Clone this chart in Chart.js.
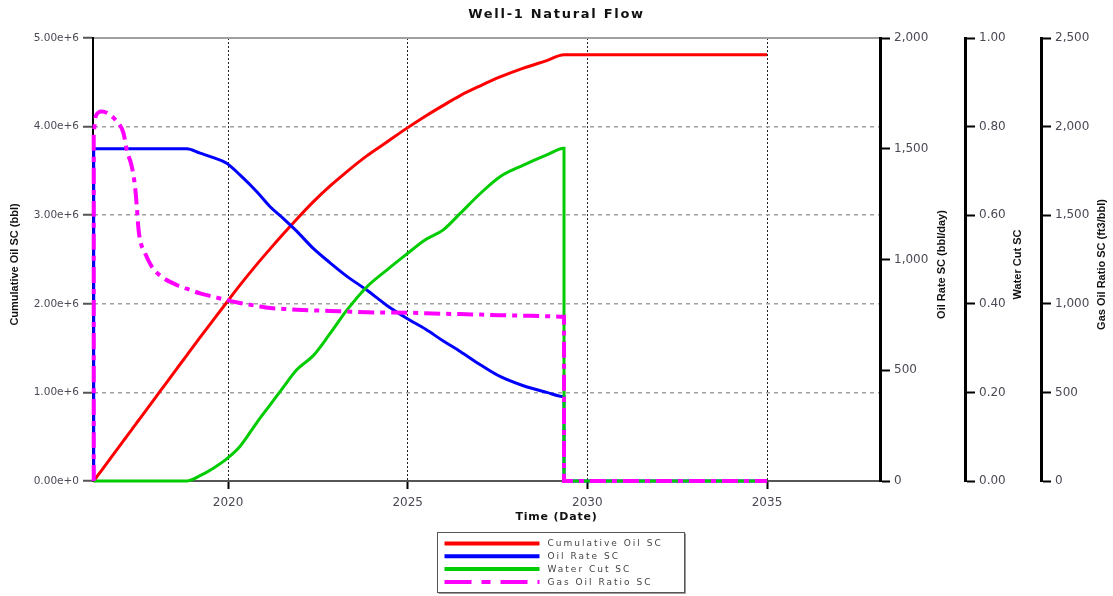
<!DOCTYPE html>
<html>
<head>
<meta charset="utf-8">
<title>Well-1 Natural Flow</title>
<script src="https://cdn.jsdelivr.net/npm/chart.js@4.4.1/dist/chart.umd.min.js"></script>
<style>
  html, body { margin: 0; padding: 0; background: #fff; }
  canvas { display: block; }
</style>
</head>
<body>
<canvas id="flow" width="1113" height="596"></canvas>
<script>
// Simulation time (decimal years); repeated times give the vertical start / shut-in steps
const years = [2016.26, 2016.26, 2016.32, 2016.48, 2016.90, 2017.09, 2017.18, 2017.32, 2017.41, 2017.46,
  2017.50, 2017.55, 2017.69, 2017.88, 2018.15, 2018.57, 2018.85, 2019.22, 2019.59, 2019.96,
  2020.33, 2020.80, 2021.17, 2021.54, 2021.91, 2022.37, 2022.84, 2023.30, 2023.86, 2024.40,
  2024.97, 2025.50, 2025.99, 2026.46, 2027.02, 2027.57, 2028.22, 2028.87, 2029.35, 2029.35, 2035.00];

// Cumulative Oil SC (bbl)
const cumulativeOil = [0, 0, 0.033e6, 0.121e6, 0.351e6, 0.455e6, 0.504e6, 0.581e6, 0.630e6, 0.658e6,
  0.680e6, 0.707e6, 0.784e6, 0.888e6, 1.036e6, 1.266e6, 1.419e6, 1.620e6, 1.818e6, 2.015e6,
  2.21e6, 2.445e6, 2.62e6, 2.79e6, 2.955e6, 3.15e6, 3.33e6, 3.49e6, 3.67e6, 3.82e6,
  3.98e6, 4.12e6, 4.24e6, 4.35e6, 4.46e6, 4.56e6, 4.66e6, 4.745e6, 4.81e6, 4.81e6, 4.81e6];

// Oil Rate SC (bbl/day)
const oilRate = [0, 1500, 1500, 1500, 1500, 1500, 1500, 1500, 1500, 1500,
  1500, 1500, 1500, 1500, 1500, 1500, 1500, 1480, 1460, 1435,
  1382, 1306, 1238, 1185, 1128, 1050, 985, 925, 862, 795,
  735, 685, 632, 585, 525, 472, 430, 400, 381, 0, 0];

// Water Cut SC (fraction)
const waterCut = [0, 0, 0, 0, 0, 0, 0, 0, 0, 0,
  0, 0, 0, 0, 0, 0, 0, 0.012, 0.029, 0.050,
  0.078, 0.132, 0.172, 0.212, 0.251, 0.283, 0.333, 0.385, 0.438, 0.475,
  0.512, 0.545, 0.567, 0.604, 0.649, 0.687, 0.713, 0.736, 0.751, 0, 0];

// Gas Oil Ratio SC (ft3/bbl)
const gasOilRatio = [0, 1980, 2060, 2085, 2030, 1962, 1868, 1774, 1661, 1548,
  1435, 1360, 1285, 1209, 1153, 1106, 1085, 1059, 1040, 1021,
  1005, 988, 976, 971, 967, 963, 960, 956, 952, 951,
  950, 947, 944, 942, 939, 936, 933, 930, 927, 0, 0];

const timeTicks = [2020, 2025, 2030, 2035];
const seriesNames = ['Cumulative Oil SC', 'Oil Rate SC', 'Water Cut SC', 'Gas Oil Ratio SC'];
const chartTitle = 'Well-1 Natural Flow';
const timeTitle = 'Time (Date)';
const axisTitles = {
  y0: 'Cumulative Oil SC (bbl)',
  y1: 'Oil Rate SC (bbl/day)',
  y2: 'Water Cut SC',
  y3: 'Gas Oil Ratio SC (ft3/bbl)'
};

const points = arr => years.map((t, i) => ({ x: t, y: arr[i] }));

const leftTickFont = { family: '"DejaVu Sans", sans-serif', size: 10.5 };
const tickFont = { family: '"DejaVu Sans", sans-serif', size: 12 };
const tickColor = '#4a4a56';

// Titles (with wide tracking), rotated axis captions and the boxed legend
const frameText = {
  id: 'frameText',
  afterDraw(chart) {
    const ctx = chart.ctx;
    const { top, bottom } = chart.chartArea;
    const W = chart.width;
    const sc = chart.scales;
    ctx.save();
    ctx.fillStyle = '#111';
    ctx.textAlign = 'center';
    ctx.textBaseline = 'middle';

    ctx.font = 'bold 13px "DejaVu Sans", sans-serif';
    ctx.letterSpacing = '1.7px';
    ctx.fillText(chartTitle, W / 2, 15);

    ctx.font = 'bold 11px "DejaVu Sans", sans-serif';
    ctx.letterSpacing = '0.8px';
    ctx.fillText(timeTitle, W / 2, 517);

    ctx.font = 'bold 11px "Liberation Sans", Arial, sans-serif';
    ctx.letterSpacing = '0px';
    const midY = (top + bottom) / 2 + 5;
    const vTitle = (text, x) => {
      ctx.save();
      ctx.translate(x, midY);
      ctx.rotate(-Math.PI / 2);
      ctx.fillText(text, 0, 0);
      ctx.restore();
    };
    vTitle(axisTitles.y0, 15);
    vTitle(axisTitles.y1, sc.y1.left + 62);
    vTitle(axisTitles.y2, sc.y2.left + 53);
    vTitle(axisTitles.y3, sc.y3.left + 61);

    // legend box
    const bx = Math.round(W / 2 - 120) + 0.5, by = 532.5, bw = 247, bh = 60;
    ctx.strokeStyle = '#9a9a9a';
    ctx.lineWidth = 1;
    ctx.beginPath();
    ctx.moveTo(bx + bw + 1, by + 1); ctx.lineTo(bx + bw + 1, by + bh + 1); ctx.lineTo(bx + 1, by + bh + 1);
    ctx.stroke();
    ctx.strokeStyle = '#555';
    ctx.strokeRect(bx, by, bw, bh);

    ctx.textAlign = 'left';
    ctx.font = '9px "DejaVu Sans", sans-serif';
    ctx.letterSpacing = '2px';
    chart.data.datasets.forEach((ds, i) => {
      const y = 543.5 + i * 12.8;
      ctx.save();
      ctx.strokeStyle = ds.borderColor;
      ctx.lineWidth = 4;
      ctx.setLineDash(ds.borderDash ? [27, 10, 9, 10] : []);
      ctx.beginPath();
      ctx.moveTo(bx + 7, y);
      ctx.lineTo(bx + 102, y);
      ctx.stroke();
      ctx.restore();
      ctx.fillStyle = '#444';
      ctx.fillText(ds.label, bx + 110, y + 0.5);
    });
    ctx.restore();
  }
};

const baseLine = {
  pointRadius: 0,
  fill: false,
  cubicInterpolationMode: 'monotone',
  clip: 6
};

new Chart(document.getElementById('flow'), {
  type: 'line',
  data: {
    datasets: [
      { ...baseLine, label: seriesNames[0], data: points(cumulativeOil), yAxisID: 'y0',
        borderColor: '#ff0000', borderWidth: 3, order: 4 },
      { ...baseLine, label: seriesNames[1], data: points(oilRate), yAxisID: 'y1',
        borderColor: '#0000ff', borderWidth: 3, order: 3 },
      { ...baseLine, label: seriesNames[2], data: points(waterCut), yAxisID: 'y2',
        borderColor: '#00cc00', borderWidth: 3, order: 2 },
      { ...baseLine, label: seriesNames[3], data: points(gasOilRatio), yAxisID: 'y3',
        borderColor: '#ff00ff', borderWidth: 4, borderDash: [16, 6, 5, 6], order: 1 }
    ]
  },
  options: {
    responsive: false,
    animation: false,
    events: [],
    layout: { padding: { top: 38, bottom: 71, left: 0, right: 0 } },
    plugins: { legend: { display: false }, title: { display: false }, tooltip: { enabled: false } },
    scales: {
      x: {
        type: 'linear', position: 'bottom', min: 2016.24, max: 2038.145,
        afterBuildTicks: s => { s.ticks = timeTicks.map(v => ({ value: v })); },
        afterFit: s => { s.height = 44; },
        ticks: { color: tickColor, font: tickFont, padding: 7, autoSkip: false, maxRotation: 0,
          callback: v => String(v) },
        grid: { color: '#222', lineWidth: 1, tickLength: 8, tickColor: '#000', tickWidth: 2 },
        border: { color: '#555', width: 2, dash: [2, 2] }
      },
      xTop: {
        type: 'linear', position: 'top', min: 2016.24, max: 2038.145,
        afterFit: s => { s.height = 0; },
        ticks: { display: false },
        grid: { display: false },
        border: { color: '#a0a0a0', width: 2 }
      },
      y0: {
        position: 'left', min: 0, max: 5e6, weight: 1,
        afterFit: s => { s.width = 93; },
        ticks: { stepSize: 1e6, color: tickColor, font: leftTickFont, padding: 4,
          callback: v => Number(v).toExponential(2) },
        grid: { color: '#a0a0a0', lineWidth: 1.5, tickLength: 10, tickColor: '#555', tickWidth: 2 },
        border: { color: '#000', width: 2, dash: [4, 4] }
      },
      y1: {
        position: 'right', min: 0, max: 2000, weight: 1,
        afterFit: s => { s.width = 85; },
        ticks: { stepSize: 500, color: tickColor, font: tickFont, padding: 4,
          callback: v => Number(v).toLocaleString('en-US') },
        grid: { drawOnChartArea: false, tickLength: 10, tickColor: '#000', tickWidth: 2 },
        border: { color: '#000', width: 3 }
      },
      y2: {
        position: 'right', min: 0, max: 1, weight: 2,
        afterFit: s => { s.width = 76; },
        ticks: { stepSize: 0.2, color: tickColor, font: tickFont, padding: 4,
          callback: v => Number(v).toFixed(2) },
        grid: { drawOnChartArea: false, tickLength: 10, tickColor: '#000', tickWidth: 2 },
        border: { color: '#000', width: 3 }
      },
      y3: {
        position: 'right', min: 0, max: 2500, weight: 3,
        afterFit: s => { s.width = 72; },
        ticks: { stepSize: 500, color: tickColor, font: tickFont, padding: 4,
          callback: v => Number(v).toLocaleString('en-US') },
        grid: { drawOnChartArea: false, tickLength: 10, tickColor: '#000', tickWidth: 2 },
        border: { color: '#000', width: 3 }
      }
    }
  },
  plugins: [frameText]
});
</script>
</body>
</html>
